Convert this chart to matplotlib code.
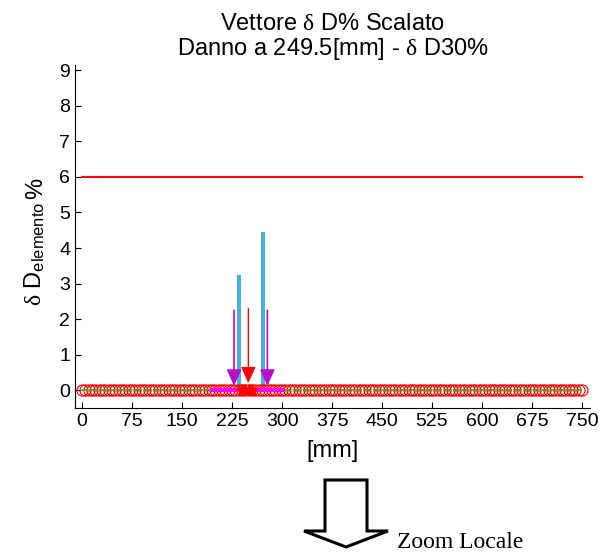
import numpy as np
import matplotlib
matplotlib.use("Agg")
import matplotlib.pyplot as plt
from matplotlib.patches import Polygon

plt.rcParams['font.family'] = ['Liberation Sans', 'DejaVu Sans']
plt.rcParams['mathtext.fontset'] = 'custom'
plt.rcParams['mathtext.rm'] = 'Liberation Sans'
plt.rcParams['mathtext.it'] = 'Liberation Serif'

# nodi della trave [mm]
nodi = np.arange(0, 750.1, 5)
zeri = np.zeros_like(nodi)

# zona indagata (magenta) e zona danneggiata (rosso)
zona_x = [195, 300]
danno_x = [240, 245, 250, 255]
pos_danno = 249.5

# vettore delta D% scalato sugli elementi
elem_x = [235.5, 271.5]
elem_dD = [3.25, 4.45]
soglia = 6

# frecce di localizzazione
frecce_m_x = [228, 278]
frecce_m_y = 2.25
freccia_r_y = 2.3

fig = plt.figure(figsize=(6.1, 5.53), dpi=100)
ax = fig.add_axes([0.123, 0.2622, 0.8443, 0.6203])

ax.plot([nodi[0], nodi[-1]], [soglia, soglia], color='red', lw=1.5)
ax.plot(nodi, zeri, 'o', mfc='none', mec='red', ms=8, mew=0.8)
ax.plot(nodi, zeri, '--', color='#00c000', lw=1.2)
ax.plot(zona_x, [0, 0], color='magenta', lw=3)
ax.plot(danno_x, np.zeros(len(danno_x)), '-*', color='red', lw=3, ms=9)
ax.bar(elem_x, elem_dD, width=5, color='#4aaee0')

for xf in frecce_m_x:
    ax.annotate('', xy=(xf, 0.12), xytext=(xf, frecce_m_y),
                arrowprops=dict(arrowstyle='-|>,head_length=1.0,head_width=0.45',
                                color='#b810c8', lw=1.2, shrinkA=0, shrinkB=0))
ax.annotate('', xy=(pos_danno, 0.2), xytext=(pos_danno, freccia_r_y),
            arrowprops=dict(arrowstyle='-|>,head_length=1.0,head_width=0.45',
                            color='red', lw=1.0, shrinkA=0, shrinkB=0))

ax.set_xlim(-10.5, 762)
ax.set_ylim(-0.5, 9.15)
ax.set_xticks(np.arange(0, 751, 75))
ax.set_yticks(np.arange(0, 10, 1))
ax.tick_params(direction='in', length=4, labelsize=14, width=0.8)
ax.spines['top'].set_visible(False)
ax.spines['right'].set_visible(False)

ax.set_title('Vettore $\\delta$ D% Scalato\nDanno a 249.5[mm] - $\\delta$ D30%',
             fontsize=17, pad=7, linespacing=1.05)
ax.set_xlabel('[mm]', fontsize=17, labelpad=7)

# etichetta asse y: il % sta all'altezza del pedice
fig.text(47 / 610, 1 - 306 / 553, '$\\delta$ D$_{\\mathrm{elemento}}$',
         fontsize=17, rotation=90, ha='right', va='bottom')
fig.text(47 / 610, 1 - 199 / 553, '%', fontsize=17, rotation=90,
         ha='right', va='bottom')

# freccia vuota "Zoom Locale"
px = lambda x, y: (x / 610, 1 - y / 553)
freccia = Polygon([px(325, 480), px(367, 480), px(367, 531), px(388, 531),
                   px(346, 547), px(304, 531), px(325, 531)],
                  closed=True, fill=False, ec='black', lw=2.2,
                  transform=fig.transFigure)
fig.patches.append(freccia)
fig.text(397 / 610, 1 - 548 / 553, 'Zoom Locale', fontsize=17,
         family='Liberation Serif', va='baseline', ha='left')

fig.savefig('out.png', dpi=100)
